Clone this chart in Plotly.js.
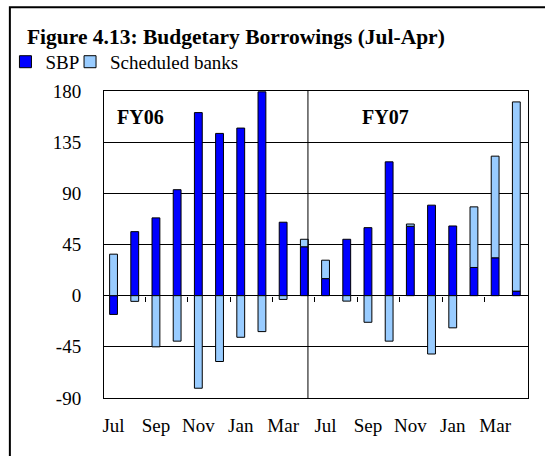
<!DOCTYPE html>
<html>
<head>
<meta charset="utf-8">
<script src="https://cdn.plot.ly/plotly-3.0.1.min.js"></script>
<style>
html, body { margin: 0; padding: 0; background: #fff; overflow: hidden; }
#chart { width: 545px; height: 456px; }
</style>
</head>
<body>
<div id="chart"></div>
<script>
// ---- data ----
const months = ['Jul','Aug','Sep','Oct','Nov','Dec','Jan','Feb','Mar','Apr'];
const fiscalYears = ['FY06','FY07'];
const periods = [];
fiscalYears.forEach(fy => months.forEach(m => periods.push(m + ' ' + fy)));
const sbp = [-16.5, 56.3, 68.4, 93.2, 161, 142.7, 147.4, 179.3, 64.6, 43,
             15, 49.6, 59.8, 117.7, 61, 79.6, 61.3, 24.8, 33.3, 4];
const scheduledBanks = [36.5, -5, -45, -40, -81.4, -57.9, -36.6, -31.6, -3.3, 6.6,
                        16.2, -4.8, -23.4, -40, 2, -51.3, -28.3, 53.3, 89.4, 166.4];
const tickLabels = ['Jul','Sep','Nov','Jan','Mar','Jul','Sep','Nov','Jan','Mar'];
const yTicks = [-90, -45, 0, 45, 90, 135, 180];
const yTickLabels = ['-90', '-45', '0', '45', '90', '135', '180'];

const serif = 'Liberation Serif, Times New Roman, serif';
const tickVals = periods.filter((p, i) => i % 2 === 0);
const zeroTicks = [];
for (let i = 1; i < periods.length - 1; i += 2) zeroTicks.push(i + 0.5);

const traces = [
  { type: 'bar', name: 'SBP', x: periods, y: sbp, legend: 'legend',
    marker: { color: '#0000FF', line: { color: '#000', width: 1 } } },
  { type: 'bar', name: 'Scheduled banks', x: periods, y: scheduledBanks, legend: 'legend2',
    marker: { color: '#99CCFF', line: { color: '#000', width: 1 } } },
  // carrier for the tick marks drawn on the zero line
  { type: 'scatter', mode: 'markers', x: [], y: [], xaxis: 'x2', yaxis: 'y',
    showlegend: false, hoverinfo: 'skip' }
];

const layout = {
  width: 545, height: 456,
  margin: { l: 104, r: 17, t: 91, b: 58 },
  paper_bgcolor: '#fff', plot_bgcolor: '#fff',
  font: { family: serif, size: 19, color: '#000' },
  barmode: 'relative', bargap: 0.63,
  showlegend: true,
  title: { text: 'Figure 4.13: Budgetary Borrowings (Jul-Apr)',
           font: { family: serif, size: 21.5, weight: 'bold', color: '#000' },
           xref: 'container', yref: 'container', x: 0.0495, xanchor: 'left',
           y: 0.92, yanchor: 'middle' },
  legend: { orientation: 'h', xref: 'container', yref: 'container',
            x: 0.010, xanchor: 'left', y: 0.906, yanchor: 'top',
            font: { family: serif, size: 19, color: '#000' },
            bgcolor: 'rgba(0,0,0,0)', itemclick: false },
  legend2: { orientation: 'h', xref: 'container', yref: 'container',
            x: 0.1285, xanchor: 'left', y: 0.906, yanchor: 'top',
            font: { family: serif, size: 19, color: '#000' },
            bgcolor: 'rgba(0,0,0,0)', itemclick: false },
  xaxis: { type: 'category', range: [-0.45, 19.55],
           tickmode: 'array', tickvals: tickVals, ticktext: tickLabels,
           ticks: '', showgrid: false, zeroline: false,
           showline: true, linecolor: '#000', linewidth: 1, mirror: true,
           ticklabelstandoff: 10, tickfont: { family: serif, size: 19 } },
  xaxis2: { overlaying: 'x', anchor: 'free', position: 1/3, type: 'linear',
            range: [-0.45, 19.55], tickmode: 'array', tickvals: zeroTicks,
            ticks: 'outside', ticklen: 5, tickwidth: 1, tickcolor: '#000',
            showticklabels: false, showgrid: false, zeroline: false, showline: false },
  yaxis: { range: [-90, 180], tickmode: 'array', tickvals: yTicks, ticktext: yTickLabels,
           showgrid: true, gridcolor: '#000', gridwidth: 1,
           zeroline: true, zerolinecolor: '#000', zerolinewidth: 1,
           showline: true, linecolor: '#000', linewidth: 1, mirror: true,
           ticks: '', ticklabelstandoff: 18, tickfont: { family: serif, size: 19 } },
  annotations: [
    { text: 'FY06', x: 1.26, y: 157, xref: 'x', yref: 'y', showarrow: false,
      font: { family: serif, size: 20, weight: 'bold', color: '#000' } },
    { text: 'FY07', x: 12.84, y: 157, xref: 'x', yref: 'y', showarrow: false,
      font: { family: serif, size: 20, weight: 'bold', color: '#000' } }
  ],
  shapes: [
    { type: 'line', xref: 'x', yref: 'paper', x0: 9.17, x1: 9.17, y0: 0, y1: 1,
      line: { color: '#000', width: 1 } },
    { type: 'rect', xref: 'paper', yref: 'paper', x0: -0.222, x1: 1.2, y0: -0.3, y1: 1.273,
      line: { color: '#000', width: 2 }, layer: 'above' }
  ]
};

Plotly.newPlot('chart', traces, layout, { displayModeBar: false, staticPlot: true });
</script>
</body>
</html>
